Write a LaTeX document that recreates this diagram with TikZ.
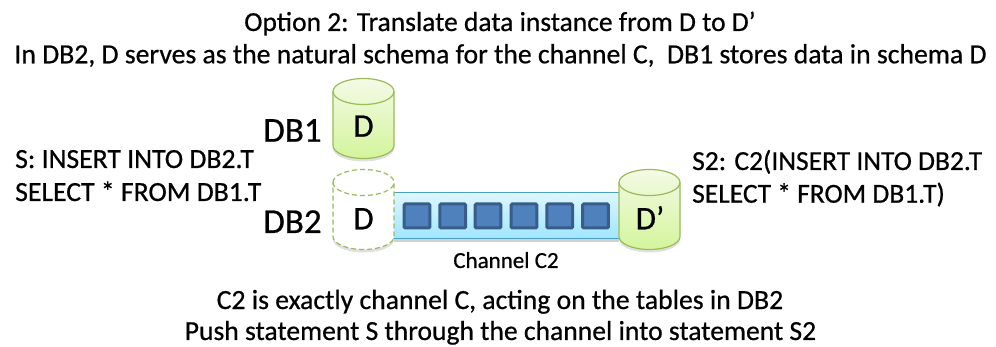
\documentclass[tikz,border=0pt]{standalone}
\usepackage{fontspec}
\setmainfont{Carlito}[FakeBold=0.6]
\definecolor{cylline}{HTML}{9BBB59}
\definecolor{cyltop}{HTML}{F4FAE6}
\definecolor{cylbot}{HTML}{D3F59B}
\definecolor{chanline}{HTML}{4BA0C4}
\definecolor{chantop}{HTML}{DDF6FF}
\definecolor{chanbot}{HTML}{9FE6FF}
\definecolor{sqfill}{HTML}{4F81BD}
\definecolor{sqline}{HTML}{385D8A}
\tikzset{
 txt/.style={inner sep=0pt,anchor=base,font=\fontsize{#1}{#1}\selectfont,text=black},
 left txt/.style={txt=#1,align=left,anchor=base west},
 sq/.style={draw=sqline,line width=3pt,fill=sqfill,rounded corners=1pt,minimum width=25.6pt,minimum height=24pt,inner sep=0pt},
 cylsolid/.style={draw=cylline,line width=1.2pt},
 cyldash/.style={draw=cylline,line width=1.2pt,dash pattern=on 5pt off 3pt},
 cylgreen/.style={top color=cyltop,bottom color=cylbot},
 cylwhite/.style={fill=white},
}
% #1 x-left, #2 y-top of cylinder, #3 fill style, #4 line style
\newcommand{\cyl}[4]{%
 \fill[black,opacity=.12] (#1,#2+13+3) arc[start angle=180,end angle=360,x radius=30.5,y radius=13] -- (#1+61,#2+67+3) arc[start angle=0,end angle=180,x radius=30.5,y radius=13] -- cycle;
 \path[#3,#4] (#1,#2+13) arc[start angle=180,end angle=360,x radius=30.5,y radius=13] -- (#1+61,#2+67) arc[start angle=0,end angle=180,x radius=30.5,y radius=13] -- cycle;
 \draw[#4] (#1,#2+13) arc[start angle=180,end angle=0,x radius=30.5,y radius=13];
}
\begin{document}
\begin{tikzpicture}[x=1pt,y=-1pt]
\useasboundingbox (0,0) rectangle (996,347);
\node[txt=27.5] (title1) at (500,31) {Option 2: Translate data instance from D to D’};
\node[txt=27.7] (title2) at (500.5,63.3) {In DB2, D serves as the natural schema for the channel C,\ \ DB1 stores data in schema D};
\node[txt=35] (db1) at (292.5,141.7) {DB1};
\node[txt=35] (db2) at (292.5,233) {DB2};
\node[left txt=27.7] (s1) at (15,168) {S: INSERT INTO DB2.T};
\node[left txt=27.7] (s1b) at (15,201) {SELECT * FROM DB1.T};
\node[left txt=27.5] (s2) at (692,170) {S2: C2(INSERT INTO DB2.T};
\node[left txt=27.5] (s2b) at (692,202.7) {SELECT * FROM DB1.T)};
% channel
\fill[black,opacity=.18] (394,196) rectangle (619,242);
\path[draw=chanline,line width=1pt,top color=chantop,bottom color=chanbot] (390,193) rectangle (622,239) ;
\foreach \i/\x in {1/417,2/452.7,3/488,4/524,5/559.7,6/595.5}{
 \node[sq] (q\i) at (\x,216) {};
}
\cyl{333}{78.5}{cylgreen}{cylsolid}
\cyl{333}{169.5}{cylwhite}{cyldash}
\cyl{619}{169.5}{cylgreen}{cylsolid}
\node[txt=33] (d1) at (363.5,136.7) {D};
\node[txt=33] (d2) at (363.5,229.3) {D};
\node[txt=33] (d3) at (650,229.3) {D’};
\node[txt=23] (chan) at (506,268) {Channel C2};
\node[txt=27.7] (b1) at (500,309) {C2 is exactly channel C, acting on the tables in DB2};
\node[txt=27.6] (b2) at (500.5,340) {Push statement S through the channel into statement S2};
\end{tikzpicture}
\end{document}
